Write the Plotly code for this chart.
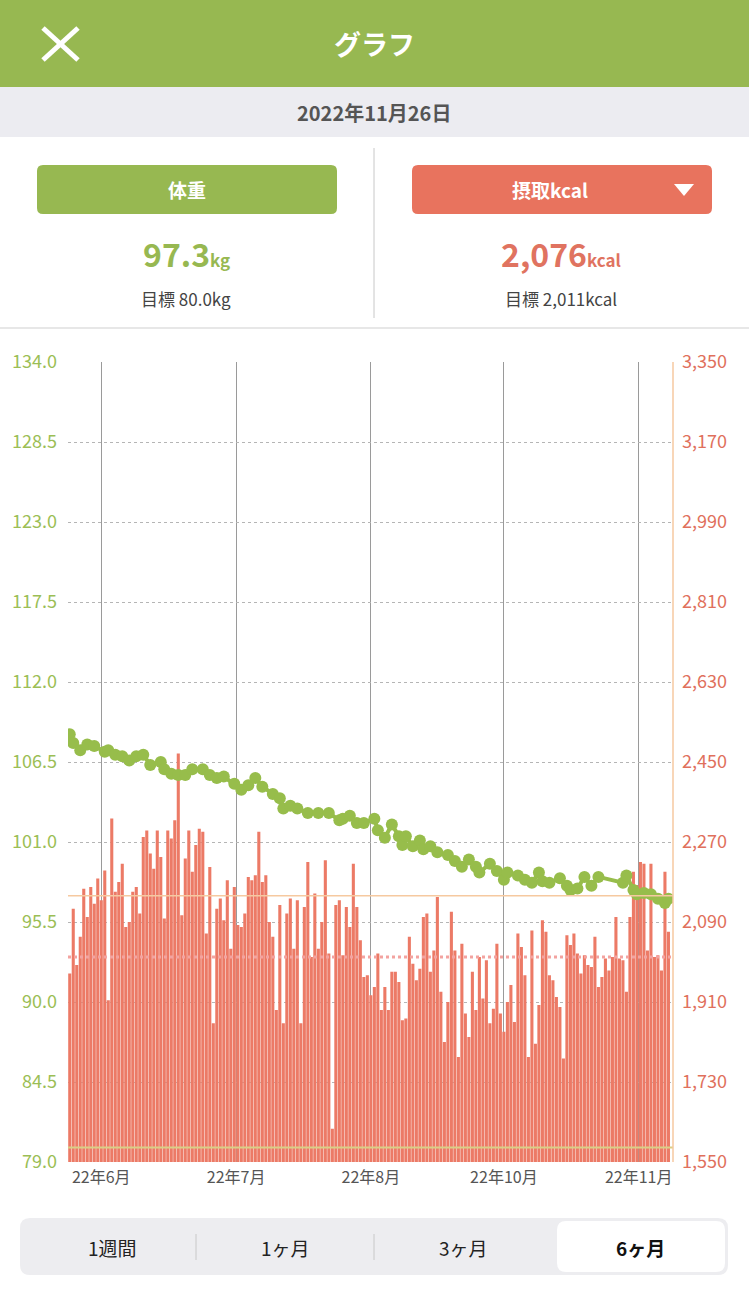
import plotly.graph_objects as go

# daily intake (kcal) left to right
kcal = [1974, 2120, 1993, 2057, 2165, 2101, 2169, 2131, 2188, 2139, 2206, 1914, 2323, 2158,
        2180, 2221, 2079, 2090, 2158, 2169, 2109, 2281, 2296, 2244, 2210, 2296, 2236, 2098,
        2296, 2278, 2319, 2469, 2105, 2233, 2296, 2203, 2263, 2300, 2293, 2064, 2214, 1862,
        2120, 2143, 2094, 2184, 2030, 2169, 2083, 2079, 2109, 2191, 2184, 2195, 2293, 2180,
        2195, 2090, 2057, 1892, 2128, 1862, 2109, 2143, 2030, 2139, 1862, 2124, 2225, 2011,
        2154, 2030, 2090, 2229, 2019, 1625, 2128, 2139, 2015, 2124, 2079, 2221, 2124, 2049,
        1966, 1970, 1925, 1944, 2019, 1892,
        1944, 1892, 1978, 1978, 1955, 1869, 1873, 2057, 1996, 1959, 1985, 2101, 2109, 1978,
        2026, 2146, 1933, 1820, 1910, 2113, 2026, 1786, 2041, 1884, 1831, 1978, 1892, 2011,
        1918, 2004, 1862, 1895, 2041, 1884, 1843, 1910, 1948, 1865, 2064, 2034, 1970, 1786,
        2071, 1816, 1903, 2094, 2068, 1970, 1959, 1921, 1899, 1783, 2060, 2038, 2064, 2019,
        1974, 2015, 1993, 1989, 2057, 1944, 1966, 2008, 1981, 2011, 2101, 2008, 2004, 1933,
        2101, 2203, 2173, 2225, 2221, 2026, 2221, 2011, 2015, 1981, 2203, 2068]

# weigh-in days (index into the daily series) and weight in kg
weight_day = [0, 1, 3, 5, 7, 10, 11, 13, 15, 17, 19, 21, 23, 26, 27, 29, 31, 33, 35, 38,
              40, 42, 44, 47, 49, 51, 53, 55, 58, 60, 61, 63, 65, 68, 71, 74, 77, 78, 80, 82,
              84, 87, 88, 90, 92, 94, 95, 96, 98, 100, 101, 103, 105, 108, 110, 112, 114,
              116, 117, 120, 122, 124, 125, 128, 130, 132, 134, 135, 137, 140, 142, 143, 145,
              147, 149, 151, 158, 159, 161, 162, 164, 166, 168, 170, 171]
weight_kg = [108.4, 107.8, 107.3, 107.7, 107.6, 107.2, 107.3, 107.0, 106.9, 106.6, 106.9,
             107.0, 106.3, 106.5, 106.0, 105.7, 105.6, 105.6, 106.0, 106.0, 105.6, 105.4,
             105.5, 105.0, 104.6, 104.9, 105.4, 104.8, 104.3, 104.0, 103.3, 103.5, 103.3,
             103.0, 103.0, 103.0, 102.5, 102.6, 102.8, 102.3, 102.3, 102.6, 101.8, 101.3,
             102.2, 101.4, 100.8, 101.4, 100.7, 101.1, 100.5, 100.7, 100.3, 100.1, 99.7,
             99.3, 99.8, 99.3, 98.9, 99.5, 99.0, 98.4, 98.9, 98.7, 98.4, 98.2, 98.9, 98.3,
             98.2, 98.5, 98.0, 97.7, 97.8, 98.6, 98.0, 98.6, 98.2, 98.7, 97.7, 97.4, 97.5,
             97.4, 97.1, 96.8, 97.1]

month_day = [9, 47.5, 86, 124, 162.5]
month_labels = ["22年6月", "22年7月", "22年8月", "22年10月", "22年11月"]

weight_now = 97.3
weight_goal = 80.0
kcal_now = 2076
kcal_goal = 2011

GREEN = "#97B851"
RED = "#E8735E"
W, H = 749, 1292
L, R, T, B = 68, 673, 362, 1162


def px(x):
    return (x - L) / (R - L)


def py(y):
    return (B - y) / (B - T)


def rrect(x0, y0, x1, y1, r, color):
    # rounded rectangle in screen pixels -> paper path
    p = (f"M {px(x0 + r)} {py(y0)} L {px(x1 - r)} {py(y0)} "
         f"Q {px(x1)} {py(y0)} {px(x1)} {py(y0 + r)} L {px(x1)} {py(y1 - r)} "
         f"Q {px(x1)} {py(y1)} {px(x1 - r)} {py(y1)} L {px(x0 + r)} {py(y1)} "
         f"Q {px(x0)} {py(y1)} {px(x0)} {py(y1 - r)} L {px(x0)} {py(y0 + r)} "
         f"Q {px(x0)} {py(y0)} {px(x0 + r)} {py(y0)} Z")
    return dict(type="path", path=p, xref="paper", yref="paper",
                fillcolor=color, line=dict(width=0), layer="below")


def box(x0, y0, x1, y1, color):
    return dict(type="rect", xref="paper", yref="paper", x0=px(x0), x1=px(x1),
                y0=py(y1), y1=py(y0), fillcolor=color, line=dict(width=0),
                layer="below")


def seg(x0, y0, x1, y1, color, width):
    return dict(type="line", xref="paper", yref="paper", x0=px(x0), x1=px(x1),
                y0=py(y0), y1=py(y1), line=dict(color=color, width=width))


def text(x, y, s, size, color):
    return dict(x=px(x), y=py(y), xref="paper", yref="paper", text=s,
                showarrow=False, font=dict(size=size, color=color),
                xanchor="center", yanchor="middle")


fig = go.Figure()
fig.add_trace(go.Bar(x=list(range(len(kcal))), y=kcal, marker_color="#EC7A66",
                     marker_line_width=0, yaxis="y"))
fig.add_trace(go.Scatter(x=weight_day, y=weight_kg, mode="lines+markers",
                         line=dict(color="#97BD4B", width=4),
                         marker=dict(size=12, color="#97BD4B"), yaxis="y2"))

shapes = [
    box(0, 0, W, 87, GREEN),
    box(0, 87, W, 137, "#ECECF1"),
    seg(43, 28, 78, 60, "white", 5),
    seg(43, 60, 78, 28, "white", 5),
    seg(374, 148, 374, 318, "#C8C8C8", 1),
    seg(0, 328, W, 328, "#CFCFCF", 1),
    rrect(37, 165, 337, 214, 6, GREEN),
    rrect(412, 165, 712, 214, 6, RED),
    dict(type="path", xref="paper", yref="paper", fillcolor="white",
         line=dict(width=0),
         path=f"M {px(674)} {py(184)} L {px(694)} {py(184)} L {px(684)} {py(196)} Z"),
    rrect(20, 1218, 728, 1275, 10, "#EDEDF0"),
    rrect(557, 1221, 725, 1272, 9, "white"),
    seg(196, 1234, 196, 1260, "#C8C8C8", 1),
    seg(374, 1234, 374, 1260, "#C8C8C8", 1),
    # reference lines
    dict(type="line", xref="paper", yref="y2", x0=0, x1=1, y0=weight_now, y1=weight_now,
         line=dict(color="#F6C9A0", width=1.5)),
    dict(type="line", xref="paper", yref="y2", x0=0, x1=1, y0=weight_goal, y1=weight_goal,
         line=dict(color="#D9CF86", width=2)),
    dict(type="line", xref="paper", yref="y", x0=0, x1=1, y0=kcal_goal, y1=kcal_goal,
         line=dict(color="#F3A3A0", width=3, dash="dot")),
    dict(type="line", xref="paper", yref="paper", x0=1, x1=1, y0=0, y1=1,
         line=dict(color="#F6C9A0", width=1.5)),
]

annotations = [
    text(374, 43, "<b>グラフ</b>", 27, "white"),
    text(374, 112, "<b>2022年11月26日</b>", 20, "#555555"),
    text(187, 190, "<b>体重</b>", 19, "white"),
    text(550, 190, "<b>摂取kcal</b>", 19, "white"),
    text(186, 253, "<b>97.3</b><b><span style='font-size:17px'>kg</span></b>", 32, GREEN),
    text(561, 253, "<b>2,076</b><b><span style='font-size:17px'>kcal</span></b>", 32, "#E07360"),
    text(186, 299, "目標 80.0kg", 17, "#444444"),
    text(561, 299, "目標 2,011kcal", 17, "#444444"),
    text(112, 1247, "1週間", 19, "#222222"),
    text(285, 1247, "1ヶ月", 19, "#222222"),
    text(463, 1247, "3ヶ月", 19, "#222222"),
    text(640, 1247, "<b>6ヶ月</b>", 19, "#111111"),
]

fig.update_layout(
    width=W, height=H, margin=dict(l=L, r=W - R, t=T, b=H - B),
    paper_bgcolor="white", plot_bgcolor="white", showlegend=False, bargap=0.12,
    font=dict(family="Noto Sans CJK JP, Noto Sans, sans-serif"),
    shapes=shapes, annotations=annotations,
    xaxis=dict(range=[-0.5, len(kcal) + 0.3], tickvals=month_day, ticktext=month_labels,
               showgrid=True, gridcolor="#9A9A9A", gridwidth=1, zeroline=False,
               tickfont=dict(size=16, color="#555555"), ticks="", showline=False,
               ticklabelstandoff=4),
    yaxis=dict(range=[1550, 3350], tickvals=list(range(1550, 3351, 180)),
               tickformat=",d", side="right", showgrid=True, gridcolor="#B5B5B5",
               griddash="dot", zeroline=False, ticks="", ticklabelstandoff=8,
               tickfont=dict(size=18, color="#E0705C")),
    yaxis2=dict(range=[79, 134], tickvals=[79 + 5.5 * i for i in range(11)],
                tickformat=".1f", side="left", overlaying="y", showgrid=False,
                zeroline=False, ticks="", ticklabelstandoff=10,
                tickfont=dict(size=18, color="#9BBE55")),
)

fig.write_html("out.html", config={"displayModeBar": False},
               post_script="document.body.style.margin='0';")
